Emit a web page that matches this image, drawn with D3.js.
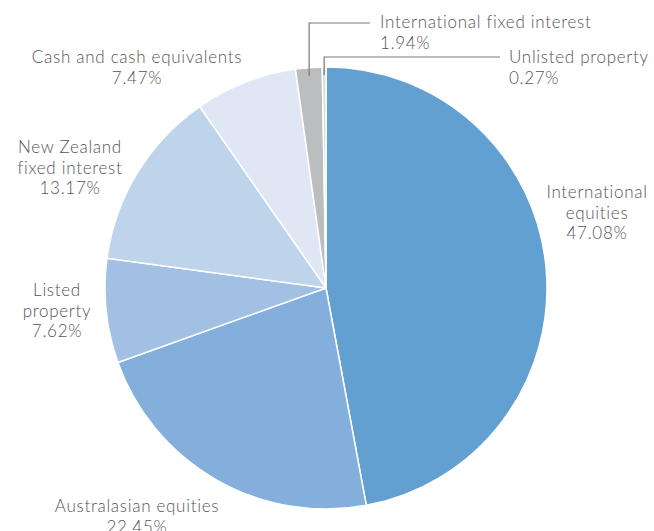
<!DOCTYPE html>
<html>
<head>
<meta charset="utf-8">
<script src="https://cdn.jsdelivr.net/npm/d3@7"></script>
<style>
  body { margin: 0; background: #fff; }
  text { font-family: Lato, "Open Sans", sans-serif; font-size: 17px; font-weight: 300; letter-spacing: 0.7px; fill: #555; }
</style>
</head>
<body>
<div id="chart"></div>
<script>
// Chart size
const width = 654;
const height = 531;

// Data, clockwise from 12 o'clock
const categories = [
  "International equities",
  "Australasian equities",
  "Listed property",
  "New Zealand fixed interest",
  "Cash and cash equivalents",
  "International fixed interest",
  "Unlisted property",
];
const values = [47.08, 22.45, 7.62, 13.17, 7.47, 1.94, 0.27];
const colours = ["#62a0d2", "#84aedb", "#a1c0e4", "#bed4eb", "#dfe7f5", "#bcbdbf", "#d6d8db"];

// How each label is split into lines
const labelLines = [
  ["International", "equities"],
  ["Australasian equities"],
  ["Listed", "property"],
  ["New Zealand", "fixed interest"],
  ["Cash and cash equivalents"],
  ["International fixed interest"],
  ["Unlisted property"],
];

const cx = 326;
const cy = 288;
const radius = 221;

const data = categories.map((c, i) => ({ name: c, value: values[i], colour: colours[i], lines: labelLines[i] }));

const svg = d3
  .select("#chart")
  .append("svg")
  .attr("width", width)
  .attr("height", height);

const g = svg.append("g").attr("transform", `translate(${cx}, ${cy})`);

const pie = d3.pie().sort(null).value((d) => d.value);
const arc = d3.arc().innerRadius(0).outerRadius(radius);
const arcs = pie(data);

g.selectAll("path")
  .data(arcs)
  .join("path")
  .attr("d", arc)
  .attr("fill", (d) => d.data.colour)
  .attr("stroke", "#fff")
  .attr("stroke-width", 1.5)
  .attr("stroke-linejoin", "round");

// Label placement (absolute page coordinates), one per slice
const labelPos = [
  { x: 597, y: 198, anchor: "middle" },
  { x: 137, y: 512, anchor: "middle" },
  { x: 57, y: 296, anchor: "middle" },
  { x: 70, y: 153, anchor: "middle" },
  { x: 137, y: 63, anchor: "middle" },
  { x: 380, y: 28, anchor: "start", leader: 23, gap: 10 },
  { x: 509, y: 63, anchor: "start", leader: 57, gap: 9 },
];
const lineHeight = 20.5;

arcs.forEach((a, i) => {
  const p = labelPos[i];
  const t = svg
    .append("text")
    .attr("text-anchor", p.anchor)
    .attr("x", p.x)
    .attr("y", p.y);
  a.data.lines.concat([d3.format(".2f")(a.data.value) + "%"]).forEach((line, j) => {
    t.append("tspan")
      .attr("x", p.x)
      .attr("dy", j === 0 ? 0 : lineHeight)
      .text(line);
  });

  // Leader lines for the thin slices at the top
  if (p.leader !== undefined) {
    const mid = (a.startAngle + a.endAngle) / 2;
    const ex = cx + Math.sin(mid) * (radius - 4);
    const ey = cy - Math.cos(mid) * (radius - 4);
    svg
      .append("polyline")
      .attr("points", `${ex},${ey + 4} ${ex},${p.leader} ${p.x - p.gap},${p.leader}`)
      .attr("fill", "none")
      .attr("stroke", "#777")
      .attr("stroke-width", 1.2);
  }
});
</script>
</body>
</html>
